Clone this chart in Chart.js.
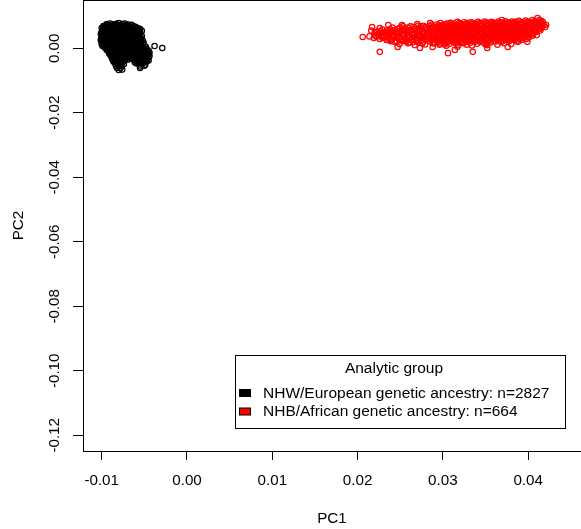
<!DOCTYPE html>
<html><head><meta charset="utf-8">
<script src="https://cdn.jsdelivr.net/npm/chart.js@4/dist/chart.umd.min.js"></script>
<style>html,body{margin:0;padding:0;background:#fff;}canvas{display:block;}</style>
</head><body>
<canvas id="c" width="581" height="529"></canvas>
<script>
const legendTitle = 'Analytic group';
const groupLabels = ['NHW/European genetic ancestry: n=2827', 'NHB/African genetic ancestry: n=664'];
const xTitle = 'PC1';
const yTitle = 'PC2';
const xTickValues = [-0.01, 0.00, 0.01, 0.02, 0.03, 0.04];
const yTickValues = [-0.12, -0.10, -0.08, -0.06, -0.04, -0.02, 0.00];

// NHW / European cluster: [PC1, PC2]
const nhwPoints = [
[-.0094,.0075],[-.0090,.0077],[-.0087,.0074],[-.0083,.0076],[-.0080,.0078],[-.0076,.0075],[-.0073,.0077],[-.0069,.0074],
[-.0098,.0069],[-.0095,.0071],[-.0091,.0068],[-.0088,.0070],[-.0084,.0069],[-.0081,.0071],[-.0077,.0068],[-.0074,.0070],[-.0070,.0069],[-.0066,.0071],[-.0062,.0068],
[-.0100,.0063],[-.0096,.0062],[-.0093,.0064],[-.0089,.0063],[-.0086,.0061],[-.0082,.0064],[-.0079,.0062],[-.0075,.0063],[-.0071,.0065],[-.0068,.0062],[-.0064,.0063],[-.0061,.0064],[-.0057,.0062],
[-.0099,.0057],[-.0095,.0056],[-.0092,.0058],[-.0088,.0057],[-.0085,.0055],[-.0081,.0058],[-.0077,.0056],[-.0074,.0057],[-.0070,.0059],[-.0067,.0056],[-.0063,.0057],[-.0060,.0058],[-.0056,.0056],[-.0053,.0054],
[-.0100,.0051],[-.0097,.0050],[-.0093,.0052],[-.0090,.0051],[-.0086,.0049],[-.0083,.0052],[-.0079,.0050],[-.0076,.0051],[-.0072,.0053],[-.0068,.0050],[-.0065,.0051],[-.0061,.0052],[-.0058,.0050],[-.0055,.0051],
[-.0101,.0044],[-.0097,.0045],[-.0094,.0043],[-.0090,.0044],[-.0087,.0046],[-.0083,.0043],[-.0080,.0045],[-.0076,.0044],[-.0073,.0042],[-.0069,.0045],[-.0066,.0044],[-.0062,.0043],[-.0059,.0045],[-.0055,.0044],
[-.0100,.0038],[-.0096,.0037],[-.0093,.0039],[-.0089,.0038],[-.0086,.0036],[-.0082,.0039],[-.0078,.0037],[-.0075,.0038],[-.0071,.0040],[-.0068,.0037],[-.0064,.0038],[-.0061,.0039],[-.0057,.0037],[-.0053,.0038],
[-.0100,.0032],[-.0097,.0033],[-.0093,.0031],[-.0090,.0032],[-.0086,.0034],[-.0083,.0031],[-.0079,.0033],[-.0076,.0032],[-.0072,.0030],[-.0069,.0033],[-.0065,.0032],[-.0062,.0031],[-.0058,.0033],[-.0054,.0032],
[-.0101,.0026],[-.0097,.0025],[-.0094,.0027],[-.0090,.0026],[-.0087,.0024],[-.0083,.0027],[-.0080,.0025],[-.0076,.0026],[-.0073,.0028],[-.0069,.0025],[-.0066,.0026],[-.0062,.0027],[-.0058,.0025],[-.0055,.0026],[-.0052,.0024],
[-.0100,.0020],[-.0096,.0021],[-.0093,.0019],[-.0089,.0020],[-.0086,.0022],[-.0082,.0019],[-.0079,.0021],[-.0075,.0020],[-.0072,.0018],[-.0068,.0021],[-.0065,.0020],[-.0061,.0019],[-.0058,.0021],[-.0054,.0020],[-.0051,.0018],
[-.0100,.0013],[-.0097,.0012],[-.0093,.0014],[-.0090,.0013],[-.0086,.0011],[-.0083,.0014],[-.0079,.0012],[-.0076,.0013],[-.0072,.0015],[-.0069,.0012],[-.0065,.0013],[-.0062,.0014],[-.0058,.0012],[-.0055,.0013],[-.0051,.0015],
[-.0099,.0007],[-.0095,.0008],[-.0092,.0006],[-.0088,.0007],[-.0085,.0009],[-.0081,.0006],[-.0078,.0008],[-.0074,.0007],[-.0071,.0005],[-.0067,.0008],[-.0064,.0007],[-.0060,.0006],[-.0057,.0008],[-.0053,.0007],[-.0049,.0005],
[-.0096,.0001],[-.0093,.0000],[-.0089,.0002],[-.0086,.0001],[-.0082,-.0001],[-.0079,.0002],[-.0075,.0000],[-.0072,.0001],[-.0068,.0003],[-.0065,.0000],[-.0061,.0001],[-.0058,.0002],[-.0054,.0000],[-.0051,.0001],[-.0048,.0003],
[-.0094,-.0005],[-.0090,-.0004],[-.0087,-.0006],[-.0083,-.0005],[-.0080,-.0003],[-.0076,-.0006],[-.0073,-.0004],[-.0069,-.0005],[-.0066,-.0007],[-.0062,-.0004],[-.0059,-.0005],[-.0055,-.0006],[-.0052,-.0004],[-.0048,-.0005],[-.0045,-.0007],
[-.0092,-.0011],[-.0089,-.0012],[-.0085,-.0010],[-.0082,-.0011],[-.0078,-.0013],[-.0075,-.0010],[-.0071,-.0012],[-.0068,-.0011],[-.0064,-.0009],[-.0061,-.0012],[-.0057,-.0011],[-.0054,-.0010],[-.0050,-.0012],[-.0047,-.0011],[-.0044,-.0013],
[-.0091,-.0018],[-.0088,-.0017],[-.0084,-.0019],[-.0081,-.0018],[-.0077,-.0016],[-.0074,-.0019],[-.0070,-.0017],[-.0067,-.0018],[-.0063,-.0020],[-.0060,-.0017],[-.0056,-.0018],[-.0053,-.0019],[-.0049,-.0017],[-.0045,-.0018],
[-.0089,-.0024],[-.0086,-.0025],[-.0082,-.0023],[-.0079,-.0024],[-.0075,-.0026],[-.0072,-.0023],[-.0068,-.0025],[-.0065,-.0024],[-.0061,-.0022],[-.0058,-.0025],[-.0054,-.0024],[-.0051,-.0023],[-.0047,-.0025],[-.0044,-.0024],
[-.0088,-.0030],[-.0084,-.0029],[-.0081,-.0031],[-.0077,-.0030],[-.0074,-.0028],[-.0070,-.0031],[-.0067,-.0029],[-.0063,-.0030],[-.0059,-.0032],[-.0056,-.0029],[-.0052,-.0030],[-.0049,-.0031],[-.0045,-.0029],
[-.0087,-.0036],[-.0083,-.0037],[-.0080,-.0035],[-.0076,-.0036],[-.0073,-.0038],[-.0069,-.0035],[-.0062,-.0037],[-.0058,-.0036],[-.0055,-.0034],[-.0051,-.0037],[-.0048,-.0036],[-.0045,-.0038],
[-.0086,-.0042],[-.0082,-.0043],[-.0079,-.0041],[-.0075,-.0042],[-.0061,-.0044],[-.0057,-.0041],[-.0054,-.0043],[-.0050,-.0042],[-.0047,-.0040],
[-.0084,-.0049],[-.0081,-.0048],[-.0077,-.0050],[-.0074,-.0049],[-.0059,-.0047],[-.0055,-.0050],[-.0052,-.0048],[-.0049,-.0051],
[-.0083,-.0055],[-.0080,-.0056],[-.0077,-.0054],[-.0055,-.0056],[-.0050,-.0054],
[-.0082,-.0061],[-.0078,-.0062],[-.0055,-.0061],
[-.0080,-.0067],[-.0076,-.0066],
[-.0038,.0007],[-.0029,.0001],
[-.0092,.0072],[-.0085,.0073],[-.0078,.0071],[-.0071,.0072],[-.0065,.0073],
[-.0097,.0066],[-.0090,.0065],[-.0083,.0067],[-.0076,.0066],[-.0068,.0065],[-.0060,.0066],
[-.0098,.0060],[-.0091,.0059],[-.0084,.0061],[-.0076,.0060],[-.0069,.0059],[-.0062,.0061],[-.0055,.0060],
[-.0098,.0054],[-.0091,.0053],[-.0084,.0055],[-.0077,.0054],[-.0070,.0053],[-.0063,.0055],[-.0057,.0054],
[-.0099,.0048],[-.0092,.0047],[-.0085,.0048],[-.0077,.0049],[-.0070,.0047],[-.0063,.0048],[-.0057,.0047],
[-.0098,.0041],[-.0091,.0042],[-.0084,.0040],[-.0078,.0041],[-.0071,.0042],[-.0064,.0040],[-.0057,.0041],
[-.0099,.0035],[-.0092,.0034],[-.0085,.0035],[-.0077,.0036],[-.0070,.0034],[-.0063,.0035],[-.0056,.0034],
[-.0099,.0029],[-.0092,.0030],[-.0085,.0028],[-.0078,.0029],[-.0071,.0030],[-.0064,.0028],[-.0056,.0029],
[-.0098,.0023],[-.0091,.0022],[-.0084,.0023],[-.0077,.0024],[-.0070,.0022],[-.0063,.0023],[-.0056,.0022],
[-.0098,.0017],[-.0091,.0018],[-.0084,.0016],[-.0077,.0017],[-.0070,.0018],[-.0063,.0016],[-.0056,.0017],
[-.0098,.0010],[-.0091,.0009],[-.0084,.0010],[-.0077,.0011],[-.0070,.0009],[-.0063,.0010],[-.0056,.0009],
[-.0094,.0004],[-.0087,.0005],[-.0080,.0003],[-.0073,.0004],[-.0066,.0005],[-.0059,.0003],[-.0052,.0004],
[-.0092,-.0002],[-.0085,-.0001],[-.0078,-.0003],[-.0071,-.0002],[-.0064,-.0001],[-.0057,-.0003],[-.0050,-.0002],
[-.0091,-.0008],[-.0084,-.0009],[-.0077,-.0007],[-.0070,-.0008],[-.0062,-.0009],[-.0055,-.0007],[-.0049,-.0008],
[-.0090,-.0015],[-.0083,-.0014],[-.0076,-.0015],[-.0069,-.0016],[-.0062,-.0014],[-.0055,-.0015],[-.0048,-.0014],
[-.0087,-.0021],[-.0080,-.0022],[-.0073,-.0020],[-.0066,-.0021],[-.0059,-.0022],[-.0052,-.0020],[-.0046,-.0021],
[-.0086,-.0027],[-.0079,-.0026],[-.0072,-.0027],[-.0065,-.0028],[-.0058,-.0026],[-.0051,-.0027],[-.0047,-.0028],
[-.0085,-.0033],[-.0078,-.0034],[-.0071,-.0032],[-.0060,-.0033],[-.0053,-.0034],[-.0047,-.0033],
[-.0084,-.0039],[-.0077,-.0040],[-.0059,-.0039],[-.0052,-.0040],
[-.0082,-.0046],[-.0076,-.0045],[-.0057,-.0046],[-.0051,-.0045]
];

// NHB / African cluster: [PC1, PC2]
const nhbPoints = [
[.0206,.0035],[.0214,.0037],[.0217,.0066],[.0216,.0055],
[.0220,.0048],[.0221,.0040],[.0219,.0032],
[.0226,.0063],[.0227,.0053],[.0225,.0045],[.0228,.0037],[.0226,.0029],[.0226,-.0011],
[.0232,.0050],[.0233,.0042],[.0231,.0034],[.0234,.0026],
[.0236,.0072],[.0238,.0060],[.0239,.0053],[.0237,.0045],[.0240,.0038],[.0238,.0030],[.0239,.0022],
[.0244,.0057],[.0245,.0048],[.0243,.0041],[.0246,.0033],[.0244,.0019],[.0247,.0004],
[.0252,.0072],[.0250,.0064],[.0251,.0056],[.0249,.0049],[.0252,.0042],[.0250,.0034],[.0251,.0026],[.0249,.0013],
[.0256,.0060],[.0257,.0052],[.0255,.0044],[.0258,.0037],[.0256,.0029],[.0257,.0021],
[.0262,.0068],[.0263,.0058],[.0261,.0050],[.0264,.0043],[.0262,.0035],[.0263,.0027],[.0261,.0018],
[.0267,.0010],[.0268,.0062],[.0269,.0054],[.0267,.0046],[.0270,.0039],[.0268,.0031],[.0269,.0023],[.0270,.0075],
[.0274,.0068],[.0275,.0061],[.0273,.0053],[.0276,.0047],[.0274,.0040],[.0275,.0032],[.0273,.0001],[.0276,.0016],[.0274,.0024],
[.0280,.0066],[.0281,.0058],[.0279,.0050],[.0282,.0043],[.0280,.0035],[.0281,.0027],[.0279,.0012],
[.0285,.0078],[.0285,.0070],[.0286,.0062],[.0284,.0054],[.0285,.0046],[.0286,.0038],[.0284,.0030],[.0285,.0021],[.0288,.0004],
[.0289,.0066],[.0290,.0058],[.0288,.0050],[.0289,.0042],[.0290,.0034],[.0288,.0026],[.0289,.0015],
[.0293,.0074],[.0294,.0066],[.0292,.0058],[.0293,.0051],[.0294,.0043],[.0292,.0035],[.0293,.0027],[.0294,.0019],
[.0297,.0078],[.0298,.0070],[.0296,.0062],[.0297,.0054],[.0298,.0046],[.0296,.0038],[.0297,.0030],[.0298,.0022],[.0296,.0011],
[.0301,.0073],[.0302,.0065],[.0300,.0057],[.0301,.0049],[.0302,.0041],[.0300,.0033],[.0301,.0025],[.0302,.0016],
[.0305,.0077],[.0306,.0069],[.0304,.0061],[.0305,.0053],[.0306,.0045],[.0304,.0037],[.0305,.0029],[.0306,.0020],[.0304,.0008],[.0306,-.0015],
[.0309,.0079],[.0310,.0071],[.0308,.0063],[.0309,.0055],[.0310,.0047],[.0308,.0039],[.0309,.0031],[.0310,.0023],[.0308,.0014],
[.0313,.0074],[.0314,.0066],[.0312,.0058],[.0313,.0050],[.0314,.0042],[.0312,.0034],[.0313,.0026],[.0314,.0017],[.0314,-.0005],
[.0317,.0082],[.0318,.0072],[.0316,.0064],[.0317,.0056],[.0318,.0048],[.0316,.0040],[.0317,.0032],[.0318,.0024],[.0316,.0015],[.0317,.0005],
[.0321,.0076],[.0322,.0068],[.0320,.0060],[.0321,.0052],[.0322,.0044],[.0320,.0036],[.0321,.0028],[.0322,.0019],
[.0325,.0081],[.0326,.0073],[.0324,.0065],[.0325,.0057],[.0326,.0049],[.0324,.0041],[.0325,.0033],[.0326,.0025],[.0324,.0016],
[.0329,.0078],[.0330,.0070],[.0328,.0062],[.0329,.0054],[.0330,.0046],[.0328,.0038],[.0329,.0030],[.0330,.0021],[.0328,.0011],
[.0333,.0081],[.0334,.0074],[.0332,.0066],[.0333,.0058],[.0334,.0050],[.0332,.0042],[.0333,.0034],[.0334,.0026],[.0332,.0017],[.0335,-.0011],
[.0337,.0077],[.0338,.0069],[.0336,.0061],[.0337,.0053],[.0338,.0045],[.0336,.0037],[.0337,.0029],[.0338,.0020],
[.0341,.0082],[.0342,.0073],[.0340,.0065],[.0341,.0057],[.0342,.0049],[.0340,.0041],[.0341,.0033],[.0342,.0025],[.0340,.0014],
[.0345,.0078],[.0346,.0070],[.0344,.0062],[.0345,.0054],[.0346,.0046],[.0344,.0038],[.0345,.0030],[.0346,.0021],
[.0349,.0083],[.0350,.0074],[.0348,.0066],[.0349,.0058],[.0350,.0050],[.0348,.0042],[.0349,.0034],[.0350,.0026],[.0348,.0017],[.0352,.0001],
[.0353,.0079],[.0354,.0071],[.0352,.0063],[.0353,.0055],[.0354,.0047],[.0352,.0039],[.0353,.0031],[.0354,.0022],[.0352,.0010],
[.0357,.0082],[.0358,.0075],[.0356,.0067],[.0357,.0059],[.0358,.0051],[.0356,.0043],[.0357,.0035],[.0358,.0027],[.0356,.0018],
[.0361,.0078],[.0362,.0070],[.0360,.0062],[.0361,.0054],[.0362,.0046],[.0360,.0038],[.0361,.0030],[.0362,.0021],
[.0365,.0083],[.0366,.0074],[.0364,.0066],[.0365,.0058],[.0366,.0050],[.0364,.0042],[.0365,.0034],[.0366,.0026],[.0364,.0011],
[.0369,.0088],[.0369,.0079],[.0370,.0071],[.0368,.0063],[.0369,.0055],[.0370,.0047],[.0368,.0039],[.0369,.0031],[.0370,.0022],
[.0373,.0084],[.0374,.0075],[.0372,.0067],[.0373,.0059],[.0374,.0051],[.0372,.0043],[.0373,.0035],[.0374,.0027],[.0372,.0016],[.0376,.0004],
[.0377,.0080],[.0378,.0072],[.0376,.0064],[.0377,.0056],[.0378,.0048],[.0376,.0040],[.0377,.0032],[.0378,.0023],
[.0381,.0083],[.0382,.0076],[.0380,.0068],[.0381,.0060],[.0382,.0052],[.0380,.0044],[.0381,.0036],[.0382,.0028],[.0380,.0013],
[.0385,.0082],[.0386,.0072],[.0384,.0064],[.0385,.0056],[.0386,.0048],[.0384,.0040],[.0385,.0032],[.0386,.0022],
[.0389,.0085],[.0390,.0077],[.0388,.0069],[.0389,.0061],[.0390,.0053],[.0388,.0045],[.0389,.0037],[.0390,.0029],[.0388,.0020],
[.0393,.0081],[.0394,.0073],[.0392,.0065],[.0393,.0057],[.0394,.0049],[.0392,.0041],[.0393,.0033],
[.0397,.0086],[.0398,.0078],[.0396,.0070],[.0397,.0062],[.0398,.0054],[.0396,.0046],[.0397,.0038],[.0398,.0029],[.0399,.0020],
[.0401,.0082],[.0402,.0074],[.0400,.0066],[.0401,.0058],[.0402,.0050],[.0400,.0042],[.0401,.0034],
[.0405,.0088],[.0406,.0079],[.0404,.0071],[.0405,.0063],[.0406,.0055],[.0404,.0047],[.0405,.0039],
[.0409,.0083],[.0410,.0075],[.0408,.0067],[.0409,.0059],[.0410,.0051],[.0410,.0041],
[.0411,.0094],[.0413,.0088],[.0414,.0079],[.0412,.0071],[.0413,.0063],[.0414,.0055],
[.0417,.0082],[.0418,.0074],[.0416,.0066],
[.0420,.0066],[.0421,.0073],
[.0223,.0052],[.0224,.0044],[.0222,.0036],
[.0229,.0058],[.0230,.0049],[.0228,.0041],[.0229,.0033],
[.0235,.0056],[.0236,.0049],[.0234,.0041],[.0235,.0034],[.0236,.0026],
[.0241,.0064],[.0242,.0056],[.0240,.0049],[.0241,.0041],[.0242,.0034],[.0240,.0026],
[.0247,.0060],[.0248,.0052],[.0246,.0045],[.0247,.0037],[.0248,.0029],[.0246,.0022],
[.0253,.0068],[.0254,.0060],[.0252,.0052],[.0253,.0045],[.0254,.0038],[.0252,.0030],[.0253,.0022],
[.0259,.0064],[.0260,.0056],[.0258,.0048],[.0259,.0040],[.0260,.0033],[.0258,.0025],[.0259,.0016],
[.0265,.0066],[.0266,.0058],[.0264,.0050],[.0265,.0042],[.0266,.0035],[.0264,.0027],[.0265,.0019],
[.0271,.0070],[.0272,.0058],[.0270,.0050],[.0271,.0043],[.0272,.0035],[.0270,.0027],[.0271,.0019],
[.0277,.0070],[.0278,.0062],[.0276,.0054],[.0277,.0046],[.0278,.0039],[.0276,.0031],[.0277,.0021],
[.0287,.0074],[.0288,.0066],[.0286,.0058],[.0287,.0050],[.0288,.0042],[.0286,.0034],[.0287,.0026],[.0288,.0018],
[.0295,.0072],[.0296,.0064],[.0294,.0056],[.0295,.0048],[.0296,.0040],[.0294,.0032],[.0295,.0024],[.0296,.0015],
[.0303,.0075],[.0304,.0067],[.0302,.0059],[.0303,.0051],[.0304,.0043],[.0302,.0035],[.0303,.0027],[.0304,.0019],[.0302,.0012],
[.0311,.0077],[.0312,.0069],[.0310,.0061],[.0311,.0053],[.0312,.0045],[.0310,.0037],[.0311,.0029],[.0312,.0020],
[.0319,.0078],[.0320,.0070],[.0318,.0062],[.0319,.0054],[.0320,.0046],[.0318,.0038],[.0319,.0030],[.0320,.0021],[.0318,.0010],
[.0327,.0077],[.0328,.0069],[.0326,.0061],[.0327,.0053],[.0328,.0045],[.0326,.0037],[.0327,.0029],[.0328,.0020],
[.0335,.0078],[.0336,.0070],[.0334,.0062],[.0335,.0054],[.0336,.0046],[.0334,.0038],[.0335,.0030],[.0336,.0022],[.0334,.0009],
[.0343,.0078],[.0344,.0070],[.0342,.0062],[.0343,.0054],[.0344,.0046],[.0342,.0038],[.0343,.0030],[.0344,.0020],
[.0351,.0079],[.0352,.0070],[.0350,.0062],[.0351,.0054],[.0352,.0046],[.0350,.0038],[.0351,.0030],[.0352,.0021],[.0350,.0012],
[.0359,.0079],[.0360,.0071],[.0358,.0063],[.0359,.0055],[.0360,.0047],[.0358,.0039],[.0359,.0031],[.0360,.0023],
[.0367,.0080],[.0368,.0071],[.0366,.0063],[.0367,.0055],[.0368,.0047],[.0366,.0039],[.0367,.0031],[.0368,.0020],
[.0375,.0080],[.0376,.0072],[.0374,.0064],[.0375,.0056],[.0376,.0048],[.0374,.0040],[.0375,.0032],[.0376,.0024],
[.0383,.0080],[.0384,.0072],[.0382,.0064],[.0383,.0056],[.0384,.0048],[.0382,.0040],[.0383,.0032],[.0384,.0025],
[.0391,.0081],[.0392,.0073],[.0390,.0065],[.0391,.0057],[.0392,.0049],[.0390,.0041],[.0391,.0034],[.0392,.0026],
[.0399,.0082],[.0400,.0074],[.0398,.0066],[.0399,.0058],[.0400,.0050],[.0398,.0042],[.0399,.0034],
[.0407,.0084],[.0408,.0076],[.0406,.0068],[.0407,.0060],[.0408,.0052],[.0406,.0044],
[.0415,.0085],[.0416,.0077],[.0414,.0069],[.0415,.0061]
];

const groupColors = ['#000000', '#ff0000'];
const FONT_FAMILY = '"Liberation Sans", Arial, sans-serif';
Chart.defaults.font.family = FONT_FAMILY;
Chart.defaults.color = '#000';

// Top edge of the plot box (the right edge lies outside the cropped picture)
const boxTopPlugin = {
  id: 'boxTop',
  afterDraw(chart) {
    const c = chart.ctx, a = chart.chartArea;
    c.save();
    c.strokeStyle = '#000';
    c.lineWidth = 1;
    c.beginPath();
    c.moveTo(a.left, a.top + 0.5);
    c.lineTo(a.right, a.top + 0.5);
    c.stroke();
    c.restore();
  }
};

const legendPlugin = {
  id: 'rStyleLegend',
  afterDraw(chart) {
    const c = chart.ctx;
    c.save();
    const L = 235.5, T = 355.5, W = 330, H = 73;
    c.fillStyle = '#fff';
    c.fillRect(L, T, W, H);
    c.strokeStyle = '#000';
    c.lineWidth = 1;
    c.strokeRect(L, T, W, H);
    c.font = '15.5px ' + FONT_FAMILY;
    c.fillStyle = '#000';
    c.textAlign = 'center';
    c.textBaseline = 'middle';
    c.fillText(legendTitle, 394, 369);
    c.textAlign = 'left';
    chart.data.datasets.forEach((ds, i) => {
      const yc = 393.5 + i * 18.5;
      c.fillStyle = groupColors[i];
      c.fillRect(239.5, yc - 4, 11, 7);
      c.strokeStyle = '#000';
      c.strokeRect(239.5, yc - 4, 11, 7);
      c.fillStyle = '#000';
      c.fillText(ds.label, 263, yc);
    });
    c.restore();
  }
};

const toXY = arr => arr.map(p => ({x: p[0], y: p[1]}));

new Chart(document.getElementById('c').getContext('2d'), {
  type: 'scatter',
  data: {
    datasets: [
      {label: groupLabels[0], data: toXY(nhwPoints), borderColor: groupColors[0], backgroundColor: 'rgba(0,0,0,0)',
       pointRadius: 2.7, pointBorderWidth: 1.2, pointHoverRadius: 2.7, pointStyle: 'circle'},
      {label: groupLabels[1], data: toXY(nhbPoints), borderColor: groupColors[1], backgroundColor: 'rgba(0,0,0,0)',
       pointRadius: 2.7, pointBorderWidth: 1.2, pointHoverRadius: 2.7, pointStyle: 'circle'}
    ]
  },
  options: {
    responsive: false,
    animation: false,
    events: [],
    layout: {padding: 0, autoPadding: false},
    plugins: {legend: {display: false}, tooltip: {enabled: false}},
    scales: {
      x: {
        type: 'linear', bounds: 'data', min: -0.012192, max: 0.04619,
        afterBuildTicks: s => { s.ticks = xTickValues.map(v => ({value: v})); },
        afterFit: s => { s.height = 78; s.paddingLeft = 0; s.paddingRight = 0; },
        ticks: {font: {size: 15.2}, padding: 12, color: '#000', maxRotation: 0, autoSkip: false,
                callback: v => Number(v).toFixed(2)},
        grid: {drawOnChartArea: false, drawTicks: true, tickLength: 9, color: '#000', lineWidth: 1},
        border: {display: true, color: '#000', width: 1},
        title: {display: true, text: xTitle, font: {size: 15.2}, color: '#000', padding: {top: 0, bottom: 1}}
      },
      y: {
        type: 'linear', bounds: 'data', min: -0.12487, max: 0.01498,
        afterBuildTicks: s => { s.ticks = yTickValues.map(v => ({value: v})); },
        afterFit: s => { s.width = 83; s.paddingTop = 0; s.paddingBottom = 0; },
        ticks: {font: {size: 15.2}, padding: 1, color: '#000', minRotation: 90, maxRotation: 90, crossAlign: 'center',
                autoSkip: false, callback: v => Number(v).toFixed(2)},
        grid: {drawOnChartArea: false, drawTicks: true, tickLength: 10, color: '#000', lineWidth: 1},
        border: {display: true, color: '#000', width: 1},
        title: {display: true, text: yTitle, font: {size: 15.2}, color: '#000', padding: {top: 10, bottom: 0}}
      }
    }
  },
  plugins: [boxTopPlugin, legendPlugin]
});
</script>
</body></html>
